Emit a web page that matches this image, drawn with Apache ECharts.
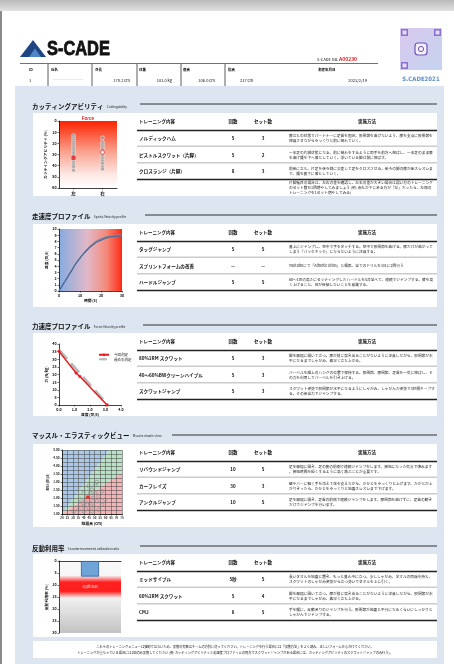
<!DOCTYPE html>
<html><head><meta charset="utf-8">
<script src="https://cdn.jsdelivr.net/npm/echarts@6/dist/echarts.min.js"></script>
<style>html,body{margin:0;padding:0;background:#fff}#c{width:454px;height:664px}</style>
</head><body><div id="c"></div>
<script>
const JP = '"Noto Sans CJK JP", "Noto Sans", sans-serif';

// ---------- header data ----------
const headerLabels = ['ID','氏名','身長','体重','座高','指高','測定年月日'];
const headerValues = ['1','','178.2 cm','101.0 kg','106.0 cm','217 cm','2023/2/19'];
const reportNo = 'A00230';

// ---------- sections / tables ----------
const sectionTitles = ['カッティングアビリティ','走速度プロファイル','力速度プロファイル','マッスル・エラスティックビュー','反動利用率'];
const sectionSubtitles = ['Cuttingability','Sprint-Velocity profile','Force-Velocity profile','Muscle-elastic view','Countermovement utilization ratio'];
const tableHeaders = ['トレーニング内容','回数','セット数','実施方法'];
const menuNames = [
  ['ノルディックハム','ピストルスクワット（片脚）','クロスランジ（片脚）'],
  ['タッグジャンプ','スプリントフォームの改善','ハードルジャンプ'],
  ['80%1RM スクワット','40～60%BWクリーンハイプル','スクワットジャンプ'],
  ['リバウンドジャンプ','カーフレイズ','アンクルジャンプ'],
  ['ミッドサイプル','60%1RM スクワット','CMJ']
];
const menuReps = [['5','5','8'],['5','—','5'],['5','5','5'],['10','30','10'],['5秒','5','6']];
const menuSets = [['3','2','3'],['5','—','5'],['3','3','3'],['5','3','5'],['5','4','5']];
const menuMethods = [
  ['膝立ちの状態でパートナーに足首を固定。股関節を曲げないよう、膝を支点に股関節を伸展させながらゆっくりと前に倒れていく。',
   '一本足の片脚状態になる。前に倒れをするように両手を前方へ伸ばし、一本足のまま膝を曲げ腰を下へ落としていく。浮いている脚は前に伸ばす。',
   '前後に立ち、片足を後ろ側に交差して足をクロスさせる。後ろの脚の膝が床スレスレまで、腰を真下に落としていく。'],
  ['真上にジャンプし、空中で手をタッチする。空中で股関節を曲げる。膝だけが曲がってしまう「バックキック」にならないように注意する。',
   'Youtubeにて「Athletic drills」と検索。全てのドリルを1日に2回行う',
   '60～1mの高さにセッティングしたハードルを5台並べて、連続でジャンプする。膝を高く上げること、体が後傾しないことを意識する。'],
  ['脚を肩幅に開いて立つ。膝が前に突き出ることがないように注意しながら、股関節が水平になるまでしゃがみ、素早く立ち上がる。',
   'バーベルを腿上のハングの位置で保持する。股関節、膝関節、足首を一気に伸ばし、その力を利用してバーベルを引き上げる。',
   'スクワット姿勢で股関節が水平になるようにしゃがみ、しゃがんだ姿勢で3秒間キープする。その後全力でジャンプする。'],
  ['足を肩幅に開き、足の裏の前側で連続ジャンプをします。接地になった気分で弾みます。接地時間を短くするように高く跳ぶことが重要です。',
   '壁やバーに軽く手を添えて体を支えながら、かかとをゆっくりと上げます。かかとが上がりきったら、かかとをゆっくりと地面スレスレまで下げます。',
   '足を肩幅に開き、足首の前側で連続ジャンプをします。膝関節を曲げずに、足首の動きだけでジャンプを行います。'],
  ['長いタオルを地面に置き、もっと真ん中に立つ。少ししゃがみ、タオルの両端を持ち、スクワットのしゃがみ姿勢から立つ勢いでタオルを上に引く。',
   '脚を肩幅に開いて立つ。膝が前に突き出ることがないように注意しながら、股関節が水平になるまでしゃがみ、素早く立ち上がる。',
   '手を腰に、反動ありのジャンプを行う。股関節が地面と平行になるくらいにしっかりとしゃがんでジャンプする。']
];
const cutNote = '片脚種目の場合は、左右の差を確認し、左右の差が大きい場合は弱い方のトレーニングのセット数を1回増やしてみましょう (例: 赤丸が下にある方が「左」だったら、左側のトレーニングを1セット増やしてみる)';
const footNotes = [
  'これらのトレーニングメニューは強制ではないため、実施の有無はチームの方針に従ってください。トレーニングを行う場合には「実施方法」をよく読み、正しいフォームを心がけてください。',
  'トレーニングが重なっている場合には1回のみ実施してください (例: カッティングアビリティと走速度プロファイルの両方でスクワットジャンプがある場合には、カッティングアビリティのスクワットジャンプのみ行う)。'
];

// ---------- chart data ----------
const cutCategories = ['左','右'];
const cutLeftGroup = [13,15,17,19,21,23,25,27,29,31,35,37,39,41,44];
const cutRightGroup = [15,19,21,23,25,30,32,34,36,38,41,43];
const cutLeftCurrent = 33;
const cutRightCurrent = 28;

const sprintTime = [0,2,4,6,8,10,12,14,16,18,20,22,24,26,28,30];
const sprintFit = [0,1.1,2.2,3.3,4.4,5.3,6.1,6.8,7.4,7.9,8.2,8.5,8.7,8.8,8.85,8.9];
const sprintMeasured = [0,1.1,2.2,3.3,4.4,5.35,6.2,6.95,7.6,8.1,8.45,8.7,8.85,8.95,9.0,9.0];

const fvVelocity = [0,1.1,1.35,3.1];
const fvForce = [35.2,21,18.7,0];
const fvPastVelocity = [0,3.15];
const fvPastForce = [36,0];

const meJumpHeight = [52,44.4,47.4,39.8,50.5,42.9,48.4,53.5,36.8,41.3,45.9,52,56.6,39.8,44.4,48.9,35.2,39.8,53.5,59.6,47.4,30.7,56.6,50.5,45.9,42.9,36.8];
const meRsi = [3.0,2.74,2.53,2.32,2.32,2.1,2.0,2.1,1.9,1.8,1.69,1.8,1.59,1.48,1.38,1.48,1.27,1.17,1.27,1.9,1.17,1.17,2.42,2.84,2.32,1.59,1.59];
const meCurrent = [43.5,2.05];
const meZoneBlue = [[20,1],[20,5],[63,5]];
const meZoneGreen = [[20,1],[63,5],[75,5],[75,3.6]];
const meZoneRed = [[20,1],[75,3.6],[75,1]];

const cmCategory = ['CM'];
const cmValue = [6.5];
const cmOptimal = [6,15.5];

// ---------- layout ----------
const panelTop = [113,224,333,444,554];
const titleY = [107,217,327,436,549];
const ruleY = [104,215,325,435,546];
const ruleX0 = [140,145,143,172,140];

function T(text,x,y,o){return {type:'text',z:50,silent:true,style:Object.assign({text:text,x:x,y:y,fill:'#111',fontSize:4,fontFamily:JP,align:'left',verticalAlign:'middle'},o||{})};}
function R(x,y,w,h,fill,z){return {type:'rect',z:z==null?-10:z,silent:true,shape:{x:x,y:y,width:w,height:h},style:{fill:fill}};}
function L(x1,y1,x2,y2,stroke,w,z){return {type:'line',z:z==null?5:z,silent:true,shape:{x1:x1,y1:y1,x2:x2,y2:y2},style:{stroke:stroke,lineWidth:w}};}

const G = [];
// page chrome
G.push(R(0,0,454,664,'#ffffff',-30));
G.push({type:'rect',z:-20,silent:true,shape:{x:0,y:0,width:454,height:11},style:{fill:{type:'linear',x:0,y:0,x2:0,y2:1,colorStops:[{offset:0,color:'#b9b9b9'},{offset:1,color:'#e2e2e2'}]}}});
G.push(R(0,11,2,653,'#8a8a8a',-20));
// logo
G.push({type:'polygon',z:10,silent:true,shape:{points:[[20,57],[33,40],[46,57]]},style:{fill:'#1d4683'}});
G.push({type:'polygon',z:11,silent:true,shape:{points:[[29,57],[35,48.5],[41,57]]},style:{fill:'#4f86c6'}});
G.push({type:'text',z:50,silent:true,x:47,y:49.5,scaleX:0.82,style:{text:'S-CADE',x:0,y:0,fill:'#111',fontSize:20,fontWeight:'bold',fontFamily:'"Liberation Sans", Arial, sans-serif',verticalAlign:'middle',stroke:'#111',lineWidth:0.8}});
G.push(L(20,63.5,378,63.5,'#3b7dc0',1));
G.push({type:'text',z:50,silent:true,style:{x:317,y:59,verticalAlign:'middle',text:'{a|S-CADE No. }{b|'+reportNo+'}',rich:{a:{fontSize:4,fontFamily:JP,fill:'#111'},b:{fontSize:5,fontWeight:'bold',fontFamily:JP,fill:'#e8191c'}}}});
const hdrLabelX = [29,51,95,139,183,228,318];
const hdrValX = [29,51,130,172,215,240,367];
const hdrValAlign = ['left','left','right','right','right','left','right'];
headerLabels.forEach((t,i)=>G.push(T(t,hdrLabelX[i],70,{fontSize:3.5,fontWeight:'bold'})));
headerValues.forEach((t,i)=>G.push(T(t,hdrValX[i],80,{fontSize:4,align:hdrValAlign[i]})));
[48,92,137,181,225].forEach(x=>G.push(L(x,64,x,86,'#333',0.8)));
G.push(L(53,79.5,83,79.5,'#dddddd',0.6));
// QR code
G.push({type:'rect',z:5,silent:true,shape:{x:400,y:28,width:42,height:42},style:{fill:{type:'linear',x:0,y:0,x2:1,y2:1,colorStops:[{offset:0,color:'#d9c8ee'},{offset:1,color:'#c5d4f0'}]}}});
[[401,29],[434,29],[401,62]].forEach(p=>{G.push({type:'rect',z:6,silent:true,shape:{x:p[0],y:p[1],width:7,height:7},style:{fill:'#8e6fd2'}});G.push({type:'rect',z:7,silent:true,shape:{x:p[0]+1.5,y:p[1]+1.5,width:4,height:4},style:{fill:'#e6dcf6'}});});
G.push({type:'rect',z:7,silent:true,shape:{x:415,y:43,width:12,height:12,r:3},style:{fill:'#f4effb',stroke:'#6f55b8',lineWidth:1.2}});
G.push({type:'circle',z:8,silent:true,shape:{cx:421,cy:49,r:2.6},style:{fill:'none',stroke:'#6f55b8',lineWidth:1}});
G.push(T('S.CADE2021',421,79,{fontSize:6,fontWeight:'bold',fill:'#5b8fd0',align:'center',fontFamily:'"DejaVu Sans Condensed", "DejaVu Sans", sans-serif'}));
// background area
G.push(R(15,86,429,578,'#dde5f0',-20));

for(let s=0;s<5;s++){
  const pt = panelTop[s];
  G.push({type:'text',z:50,silent:true,style:{x:32,y:titleY[s],verticalAlign:'middle',text:'{t|'+sectionTitles[s]+'} {s|'+sectionSubtitles[s]+'}',rich:{t:{fontSize:6.5,fontWeight:'bold',fontFamily:JP,fill:'#111'},s:{fontSize:3.2,fontFamily:JP,fill:'#222'}}}});
  G.push(L(ruleX0[s],ruleY[s],437,ruleY[s],'#333',1));
  G.push(R(33,pt,404,83,'#ffffff',-10));
  const hy = pt+8.5;
  G.push(T(tableHeaders[0],139,hy,{fontSize:4.5,fontWeight:'bold'}));
  G.push(T(tableHeaders[1],233,hy,{fontSize:4.5,fontWeight:'bold',align:'center'}));
  G.push(T(tableHeaders[2],263,hy,{fontSize:4.5,fontWeight:'bold',align:'center'}));
  G.push(T(tableHeaders[3],367,hy,{fontSize:4.5,fontWeight:'bold',align:'center'}));
  G.push(L(137,pt+17.5,437,pt+17.5,'#222',1.3));
  G.push(L(137,pt+33.3,437,pt+33.3,'#cccccc',1.5));
  G.push(L(137,pt+49.8,437,pt+49.8,'#cccccc',1.5));
  G.push(L(137,pt+66.5,437,pt+66.5,'#222',1.3));
  for(let r=0;r<3;r++){
    const ry = pt+25.5+r*16.5;
    G.push(T(menuNames[s][r],139,ry,{fontSize:4.6,fontWeight:'bold'}));
    G.push(T(menuReps[s][r],233,ry,{fontSize:4.5,fontWeight:'bold',align:'center'}));
    G.push(T(menuSets[s][r],263,ry,{fontSize:4.5,fontWeight:'bold',align:'center'}));
    G.push(T(menuMethods[s][r],289,ry,{fontSize:3.7,width:146,overflow:'break',lineHeight:4.8,fill:'#222'}));
  }
}
G.push(T(cutNote,289,187.5,{fontSize:3.7,width:146,overflow:'break',lineHeight:4.8,fill:'#222'}));
// footer note
G.push(R(33,641,404,17,'#ffffff',-10));
G.push(T(footNotes[0],235,646.5,{fontSize:3.2,align:'center',fill:'#111'}));
G.push(T(footNotes[1],235,652.5,{fontSize:3.2,align:'center',fill:'#111'}));
// chart annotations
G.push(T('Force',88,119,{fontSize:4.5,fontWeight:'bold',fontStyle:'italic',fill:'#e8191c',align:'center',fontFamily:'"Liberation Sans", sans-serif'}));

// ---------- axes ----------
function ax(extra){
  return Object.assign({
    axisLine:{show:true,onZero:false,lineStyle:{color:'#111',width:0.8}},
    axisTick:{show:true,length:1.5,lineStyle:{color:'#111',width:0.6}},
    axisLabel:{fontSize:3.6,color:'#111',fontWeight:'bold',margin:2.5,fontFamily:JP},
    splitLine:{show:false},
    nameLocation:'middle',
    nameTextStyle:{fontSize:3.8,color:'#111',fontWeight:'bold',fontFamily:JP}
  }, extra);
}
function zone(pts,color){
  return {type:'custom',xAxisIndex:3,yAxisIndex:3,z:-1,silent:true,data:[0],clip:true,
    renderItem:function(p,api){return {type:'polygon',shape:{points:pts.map(q=>api.coord(q))},style:{fill:color}};}};
}

const option = {
  animation:false,
  backgroundColor:'transparent',
  textStyle:{fontFamily:JP},
  graphic:{elements:G},
  legend:{show:true,left:93,top:348,orient:'vertical',itemGap:1,itemWidth:10,itemHeight:3,
    textStyle:{fontSize:3.5,color:'#111',fontFamily:JP},data:['今回測定','過去の測定']},
  grid:[
    {left:59,top:121,width:58,height:67,show:true,borderWidth:0,
      backgroundColor:{type:'linear',x:0,y:0,x2:0,y2:1,colorStops:[{offset:0,color:'#ff2200'},{offset:0.45,color:'#f9a08c'},{offset:0.8,color:'#fde8e4'},{offset:1,color:'#ffffff'}]}},
    {left:59,top:229,width:63,height:62,show:true,borderWidth:0,
      backgroundColor:{type:'linear',x:0,y:0,x2:1,y2:0,colorStops:[{offset:0,color:'#86abe0'},{offset:0.45,color:'#e2b8c8'},{offset:0.75,color:'#f48a7a'},{offset:1,color:'#ff2a14'}]}},
    {left:59,top:344,width:62,height:61},
    {left:62,top:450,width:60,height:64},
    {left:59,top:561,width:62,height:72,show:true,borderWidth:0,
      backgroundColor:{type:'linear',x:0,y:0,x2:0,y2:1,colorStops:[{offset:0,color:'#f9f9f9'},{offset:0.5,color:'#f2f2f2'},{offset:1,color:'#c2c2c2'}]}}
  ],
  xAxis:[
    ax({gridIndex:0,type:'category',data:cutCategories,axisTick:{show:true,alignWithLabel:true,length:1.5,lineStyle:{color:'#111',width:0.6}},axisLabel:{fontSize:4.5,color:'#111',fontWeight:'bold',margin:3,fontFamily:JP}}),
    ax({gridIndex:1,type:'value',min:0,max:30,interval:10,name:'時間 (s)',nameGap:8}),
    ax({gridIndex:2,type:'value',min:0,max:4,interval:1,name:'速度 (m/s)',nameGap:8,axisLabel:{fontSize:3.6,color:'#111',fontWeight:'bold',margin:2.5,formatter:v=>v.toFixed(1)}}),
    ax({gridIndex:3,type:'value',min:20,max:75,interval:5,name:'跳躍高 (cm)',nameGap:8,axisLabel:{fontSize:2.8,color:'#111',fontWeight:'bold',margin:2.5},
      splitLine:{show:true,lineStyle:{color:'#555',width:0.6}}}),
    ax({gridIndex:4,type:'category',data:cmCategory,position:'top',axisLabel:{show:false},axisTick:{show:false}})
  ],
  yAxis:[
    ax({gridIndex:0,type:'value',min:0,max:60,interval:10,inverse:true,name:'カッティングアビリティ (%)',nameGap:12}),
    ax({gridIndex:1,type:'value',min:0,max:10,interval:1,name:'速度 (m/s)',nameGap:10}),
    ax({gridIndex:2,type:'value',min:0,max:40,interval:5,name:'力 (N/kg)',nameGap:11}),
    ax({gridIndex:3,type:'value',min:1,max:5,interval:0.5,name:'RSI (m/s)',nameGap:13,
      axisLabel:{fontSize:3,color:'#111',fontWeight:'bold',margin:2.5,formatter:v=>v.toFixed(2)},
      splitLine:{show:true,lineStyle:{color:'#555',width:0.6}},
      minorTick:{show:false,splitNumber:2},
      minorSplitLine:{show:true,lineStyle:{color:'#555',width:0.6}}}),
    ax({gridIndex:4,type:'value',min:0,max:30,interval:5,inverse:true,name:'反動利用率 (%)',nameGap:11})
  ],
  series:[
    {type:'scatter',xAxisIndex:0,yAxisIndex:0,symbolSize:4,itemStyle:{color:'#9c9c9c',borderColor:'#ffffff',borderWidth:0.5},
      data:cutLeftGroup.map(v=>[cutCategories[0],v]).concat(cutRightGroup.map(v=>[cutCategories[1],v]))},
    {type:'scatter',xAxisIndex:0,yAxisIndex:0,symbol:'rect',symbolSize:4,z:5,itemStyle:{color:'#e8191c'},data:[[cutCategories[0],cutLeftCurrent]]},
    {type:'scatter',xAxisIndex:0,yAxisIndex:0,symbolSize:4,z:5,itemStyle:{color:'#ffffff',borderColor:'#e8191c',borderWidth:0.8},data:[[cutCategories[1],cutRightCurrent]]},

    {type:'line',xAxisIndex:1,yAxisIndex:1,smooth:true,showSymbol:false,lineStyle:{color:'#8a8a9a',width:1.2},data:sprintTime.map((t,i)=>[t,sprintMeasured[i]])},
    {type:'line',xAxisIndex:1,yAxisIndex:1,smooth:true,showSymbol:false,lineStyle:{color:'#4a6a9e',width:1.3},data:sprintTime.map((t,i)=>[t,sprintFit[i]])},

    {name:'過去の測定',type:'line',xAxisIndex:2,yAxisIndex:2,showSymbol:false,symbol:'none',lineStyle:{color:'#b9b9b9',width:3,type:'dashed'},itemStyle:{color:'#b9b9b9'},data:fvPastVelocity.map((v,i)=>[v,fvPastForce[i]])},
    {name:'今回測定',type:'line',xAxisIndex:2,yAxisIndex:2,symbol:'circle',symbolSize:3,lineStyle:{color:'#e8191c',width:1.4},itemStyle:{color:'#e8191c'},data:fvVelocity.map((v,i)=>[v,fvForce[i]])},

    zone(meZoneBlue,'#a9c8ea'),
    zone(meZoneGreen,'#b7e3c4'),
    zone(meZoneRed,'#f6b3b6'),
    {type:'scatter',xAxisIndex:3,yAxisIndex:3,symbolSize:3.5,itemStyle:{color:'rgba(0,0,0,0)',borderColor:'#8c8c8c',borderWidth:0.8},data:meJumpHeight.map((h,i)=>[h,meRsi[i]])},
    {type:'scatter',xAxisIndex:3,yAxisIndex:3,symbolSize:3.5,z:5,itemStyle:{color:'#e8191c'},data:[meCurrent]},

    {type:'line',xAxisIndex:4,yAxisIndex:4,data:[],z:1,silent:true,
      markArea:{silent:true,data:[[{yAxis:cmOptimal[0]},{yAxis:cmOptimal[1]}]],
        itemStyle:{color:{type:'linear',x:0,y:0,x2:0,y2:1,colorStops:[{offset:0,color:'rgba(255,40,40,0)'},{offset:0.3,color:'rgba(255,20,20,0.95)'},{offset:0.7,color:'rgba(255,20,20,0.95)'},{offset:1,color:'rgba(255,40,40,0)'}]}},
        label:{show:true,position:'inside',formatter:'Optimal',color:'#ffd6d6',fontSize:4}}},
    {type:'bar',xAxisIndex:4,yAxisIndex:4,barWidth:18,z:4,itemStyle:{color:'#6fa4d8',borderColor:'#2c5f9e',borderWidth:0.8},data:cmValue}
  ]
};
const chart = echarts.init(document.getElementById('c'),null,{renderer:'canvas'});
chart.setOption(option);
</script></body></html>
